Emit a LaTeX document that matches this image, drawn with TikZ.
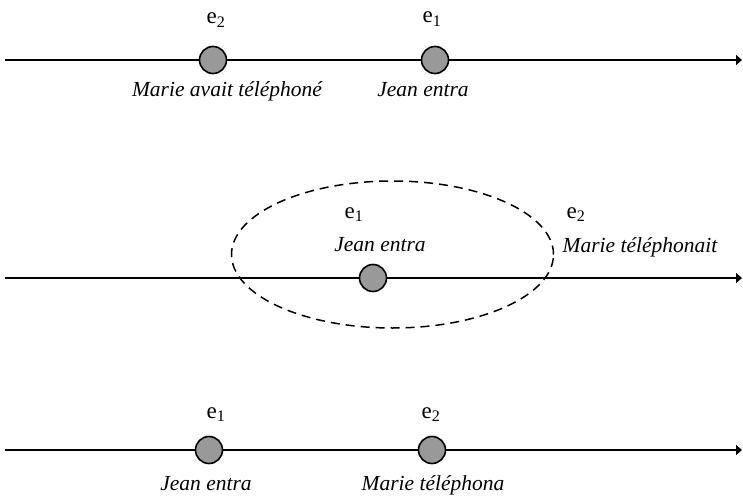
\documentclass[tikz,border=0pt]{standalone}
\usepackage{fontspec}
\setmainfont{Liberation Serif}
\usetikzlibrary{arrows.meta,shapes.geometric}
\tikzset{
  axis/.style={line width=1.8pt,-{Triangle[length=6pt,width=10pt]}},
  event/.style={circle,draw,line width=1.6pt,fill=gray!80!white,minimum size=27pt,inner sep=0pt},
  lab/.style={font=\fontsize{21.5}{24}\selectfont\itshape,inner sep=0pt,anchor=base},
  ename/.style={font=\fontsize{23}{25}\selectfont,inner sep=0pt,anchor=base},
}
\begin{document}
\begin{tikzpicture}[x=1pt,y=-1pt]
\useasboundingbox (0,0) rectangle (743,497);
% line 1
\coordinate (s1) at (5,60);
\coordinate (t1) at (742,60);
\draw[axis] (s1) -- (t1);
\node[event] (a1) at (213,60) {};
\node[event] (b1) at (435,60) {};
\node[ename] (ea1) at (216,24) {e\textsubscript{2}};
\node[ename] (eb1) at (432,23) {e\textsubscript{1}};
\node[lab] (la1) at (227,97) {Marie avait téléphoné};
\node[lab] (lb1) at (423,97) {Jean entra};
% line 2
\coordinate (s2) at (5,278);
\coordinate (t2) at (742,278);
\draw[axis] (s2) -- (t2);
\node[ellipse,draw,line width=1.5pt,minimum width=322pt,minimum height=147pt,inner sep=0pt,dash pattern=on 9pt off 6pt] (el) at (392.5,254.5) {};
\node[event] (a2) at (373,278) {};
\node[ename] (ea2) at (354,218) {e\textsubscript{1}};
\node[lab] (la2) at (380,251) {Jean entra};
\node[ename] (eb2) at (576,218) {e\textsubscript{2}};
\node[lab] (lb2) at (640,252) {Marie téléphonait};
% line 3
\coordinate (s3) at (5,450);
\coordinate (t3) at (742,450);
\draw[axis] (s3) -- (t3);
\node[event] (a3) at (209,450) {};
\node[event] (b3) at (432,450) {};
\node[ename] (ea3) at (216,418) {e\textsubscript{1}};
\node[ename] (eb3) at (431,418) {e\textsubscript{2}};
\node[lab] (la3) at (206,490) {Jean entra};
\node[lab] (lb3) at (433,490) {Marie téléphona};
\end{tikzpicture}
\end{document}
